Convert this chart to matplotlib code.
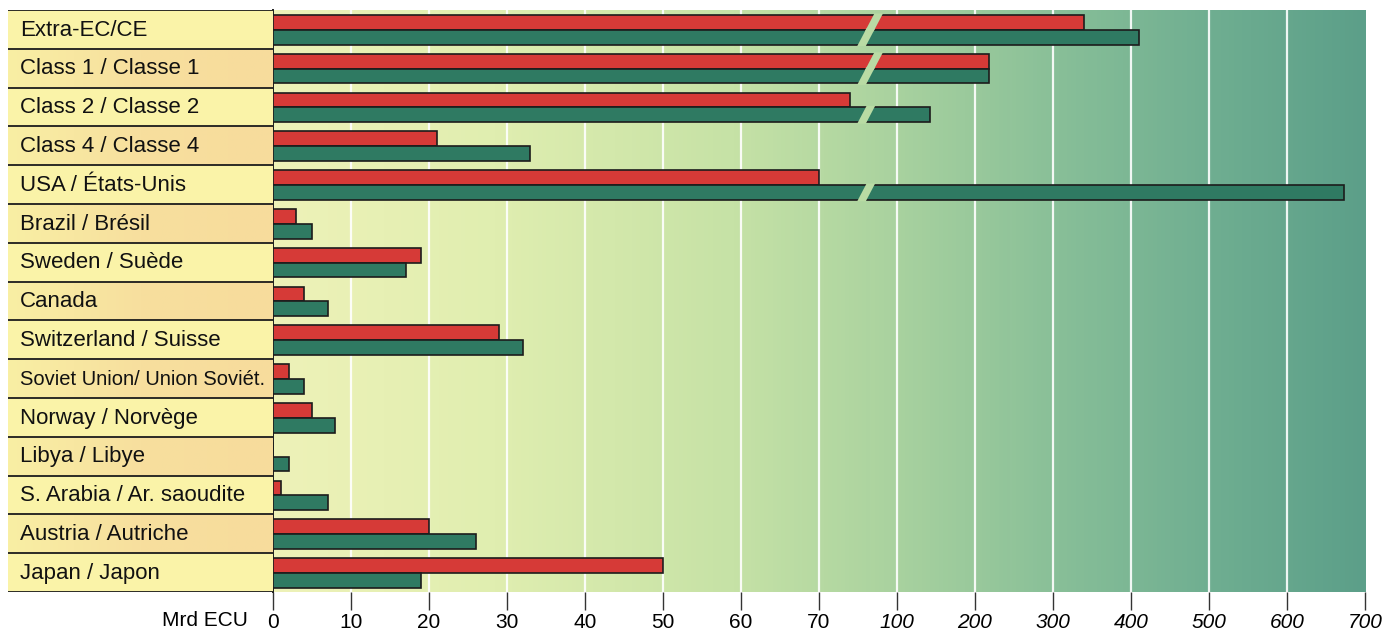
import matplotlib
matplotlib.use("Agg")
import matplotlib.pyplot as plt
import numpy as np

from matplotlib.patches import Polygon, Rectangle
from matplotlib.colors import LinearSegmentedColormap

plt.rcParams["font.family"] = ["Liberation Sans", "DejaVu Sans"]

categories = [
    "Extra-EC/CE", "Class 1 / Classe 1", "Class 2 / Classe 2", "Class 4 / Classe 4",
    "USA / États-Unis", "Brazil / Brésil", "Sweden / Suède", "Canada",
    "Switzerland / Suisse", "Soviet Union/ Union Soviét.", "Norway / Norvège",
    "Libya / Libye", "S. Arabia / Ar. saoudite", "Austria / Autriche", "Japan / Japon",
]
red_vals = [340, 218, 74, 21, 70, 3, 19, 4, 29, 2, 5, 0, 1, 20, 50]
green_vals = [410, 218, 142, 33, 673, 5, 17, 7, 32, 4, 8, 2, 7, 26, 19]
tick_values = [0, 10, 20, 30, 40, 50, 60, 70, 100, 200, 300, 400, 500, 600, 700]

RED = "#d63a37"
GREEN = "#2f7a62"


def to_pos(v):
    # linear up to 70, then 100 per tick step
    return v if v <= 75 else 70 + v / 10


fig = plt.figure(figsize=(14, 6.33), dpi=100)
W, H = 1400, 633
x0, x1 = 273, 1365
ytop, ybot = 10, 592
ax = fig.add_axes([x0 / W, (H - ybot) / H, (x1 - x0) / W, (ybot - ytop) / H])
lab = fig.add_axes([8 / W, (H - ybot) / H, (x0 - 8) / W, (ybot - ytop) / H])

n = len(categories)

# background gradient
bg = LinearSegmentedColormap.from_list("bg", [
    (0.0, "#eef2b8"), (0.2, "#e0eeb0"), (0.42, "#c6e2a6"),
    (0.57, "#a9d29f"), (0.72, "#88bf98"), (0.86, "#6fae91"), (1.0, "#5c9f89"),
])
grad = np.linspace(0, 1, 256).reshape(1, -1)
ax.imshow(grad, cmap=bg, aspect="auto", extent=[0, 140, n, 0], zorder=0)

for t in range(10, 140, 10):
    ax.axvline(t, color="white", lw=1.6, zorder=1, alpha=0.9)

h = 0.38
yr = np.arange(n) + 0.32
yg = np.arange(n) + 0.70
rp = [to_pos(v) for v in red_vals]
gp = [to_pos(v) for v in green_vals]
ax.barh(yr, rp, height=h, color=RED, edgecolor="#1c1c1c", lw=1.2, zorder=3)
ax.barh(yg, gp, height=h, color=GREEN, edgecolor="#1c1c1c", lw=1.2, zorder=3)

# break marks on bars that exceed 70
for ys, vals, shift in [(yr, red_vals, 1.0), (yg, green_vals, 0.0)]:
    for y, v in zip(ys, vals):
        if v > 75:
            top, bot = y - h / 2 - 0.04, y + h / 2 + 0.04
            xb = 74.9 + shift
            poly = Polygon([(xb, bot), (xb + 1.1, bot), (xb + 2.3, top), (xb + 1.2, top)],
                           closed=True, facecolor="#b9dba4", edgecolor="none", zorder=4)
            ax.add_patch(poly)

ax.set_xlim(0, 140)
ax.set_ylim(n, 0)
ax.set_yticks([])
for s in ["top", "right", "bottom"]:
    ax.spines[s].set_visible(False)
ax.spines["left"].set_color("#1c1c1c")
ax.spines["left"].set_linewidth(1.4)
ax.set_xticks([to_pos(v) for v in tick_values])
ax.set_xticklabels([str(v) for v in tick_values], fontsize=15)
for lbl, v in zip(ax.get_xticklabels(), tick_values):
    if v >= 100:
        lbl.set_style("italic")
ax.tick_params(axis="x", length=13, width=1, color="#333333", pad=2)
fig.text(205 / W, 1 - 620 / H, "Mrd ECU", ha="center", va="center", fontsize=15)

# label panel
lab.set_xlim(0, 1)
lab.set_ylim(n, 0)
lab.axis("off")
peach = LinearSegmentedColormap.from_list("peach", ["#f9efa4", "#f7df9e", "#f7dc9c"])
for i, name in enumerate(categories):
    if i % 2 == 0:
        lab.add_patch(Rectangle((0, i), 1, 1, facecolor="#faf3a8", edgecolor="none", zorder=0))
    else:
        lab.imshow(grad, cmap=peach, aspect="auto", extent=[0, 1, i + 1, i], zorder=0)
    size = 14.5 if name.startswith("Soviet") else 16
    lab.text(0.045, i + 0.52, name, ha="left", va="center", fontsize=size, color="#111111")
for i in range(n + 1):
    lab.axhline(i, color="#1c1c1c", lw=1.3, zorder=2)
lab.set_xlim(0, 1)
lab.set_ylim(n, 0)

fig.savefig("out.png", dpi=100)
